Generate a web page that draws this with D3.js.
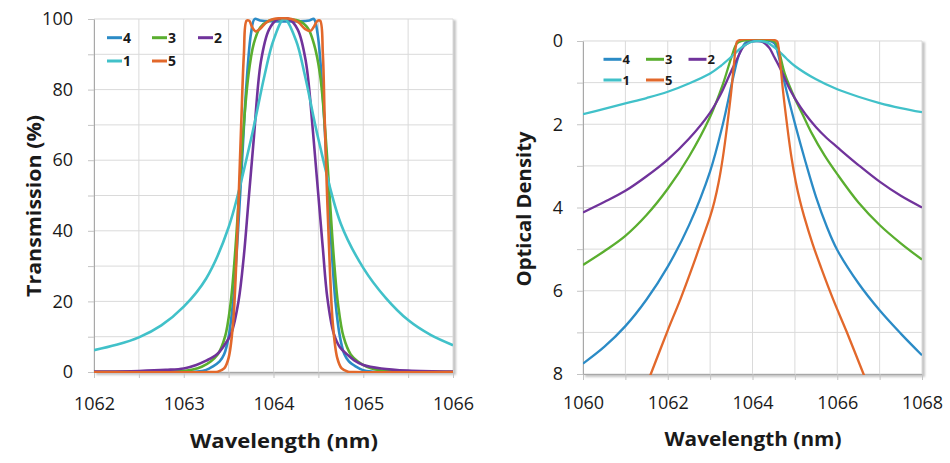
<!DOCTYPE html>
<html>
<head>
<meta charset="utf-8">
<script src="https://cdn.jsdelivr.net/npm/d3@7"></script>
<style>
  body { margin: 0; background: #fff; }
  svg { display: block; }
</style>
</head>
<body>
<svg id="chart" width="950" height="463"></svg>
<script>
// ---- data ----
const seriesNames = ['4', '3', '2', '1', '5'];
const seriesColors = ['#2b8bc6', '#5aae2f', '#70339b', '#41c1c9', '#e2682b'];

// Transmission (%) vs wavelength (nm)
const trans4 = [[1062,0],[1063,0.02],[1063.15,0.1],[1063.25,0.6],[1063.32,1.5],[1063.4,3],[1063.45,5],[1063.5,10],[1063.55,20],[1063.6,38],[1063.65,60],[1063.7,82],[1063.75,96],[1063.79,100],[1063.85,99.6],[1064.12,99.3],[1064.4,99.6],[1064.45,100],[1064.49,96],[1064.54,82],[1064.59,60],[1064.64,38],[1064.69,20],[1064.74,10],[1064.79,5],[1064.84,3],[1064.92,1.5],[1064.99,0.6],[1065.09,0.1],[1065.3,0],[1066,0]];
const trans3 = [[1062,0],[1062.8,0.1],[1063,0.3],[1063.1,0.7],[1063.2,1.5],[1063.3,3],[1063.38,5],[1063.46,10],[1063.52,19],[1063.57,33],[1063.61,48],[1063.66,67],[1063.72,84],[1063.78,93],[1063.85,97.5],[1063.95,99.5],[1064.1,100],[1064.28,99.5],[1064.38,97.5],[1064.45,93],[1064.52,84],[1064.58,67],[1064.63,48],[1064.67,33],[1064.72,19],[1064.78,10],[1064.86,5],[1064.94,3],[1065.04,1.5],[1065.14,0.7],[1065.25,0.3],[1065.45,0.1],[1066,0]];
const trans2 = [[1062,0.1],[1062.5,0.3],[1062.8,0.6],[1063,1],[1063.14,2],[1063.25,3.2],[1063.37,5],[1063.45,7.5],[1063.53,11],[1063.61,20],[1063.67,33],[1063.72,48],[1063.78,66],[1063.86,88],[1063.95,97],[1064.05,100],[1064.17,100],[1064.27,97],[1064.36,88],[1064.44,68],[1064.5,50],[1064.55,35],[1064.6,21],[1064.67,11],[1064.74,7],[1064.82,5],[1064.9,3.3],[1065,2],[1065.2,1],[1065.5,0.4],[1066,0.1]];
const trans1 = [[1062,6.2],[1062.25,7.7],[1062.5,9.8],[1062.75,13.2],[1063,18.5],[1063.25,26.5],[1063.5,41],[1063.75,66],[1063.9,84],[1064,94],[1064.12,100],[1064.25,94],[1064.35,84],[1064.5,66],[1064.75,42],[1065,29.5],[1065.25,21],[1065.5,14.7],[1065.75,10.5],[1066,7.6]];
const trans5 = [[1062,0],[1063.3,0],[1063.38,0.1],[1063.45,1],[1063.5,4],[1063.55,14],[1063.58,28],[1063.61,48],[1063.64,70],[1063.67,90],[1063.7,99.5],[1063.73,99.5],[1063.76,97.8],[1063.8,96.5],[1063.85,97.2],[1063.92,99],[1064,100],[1064.2,100],[1064.28,99],[1064.35,97.2],[1064.41,96.6],[1064.45,97.8],[1064.49,99.5],[1064.52,99.5],[1064.55,90],[1064.57,72],[1064.6,48],[1064.63,28],[1064.66,14],[1064.71,4],[1064.76,1],[1064.83,0.1],[1064.9,0],[1066,0]];

// Optical density vs wavelength (nm)
const od4 = [[1060,7.75],[1060.5,7.35],[1061,6.85],[1061.5,6.21],[1062,5.42],[1062.5,4.43],[1063,3.13],[1063.3,2],[1063.55,0.85],[1063.7,0.28],[1063.85,0.03],[1063.95,0],[1064.4,0],[1064.52,0.06],[1064.6,0.3],[1064.75,0.98],[1065,1.98],[1065.25,2.9],[1065.5,3.75],[1065.75,4.45],[1066,5.02],[1066.5,5.82],[1067,6.47],[1067.5,7.03],[1068,7.55]];
const od3 = [[1060,5.38],[1060.5,5.05],[1061,4.68],[1061.5,4.18],[1062,3.55],[1062.5,2.78],[1063,1.82],[1063.3,1.04],[1063.5,0.4],[1063.63,0.06],[1063.75,0],[1064.5,0],[1064.58,0.1],[1064.65,0.34],[1064.76,0.78],[1065,1.38],[1065.2,1.8],[1065.4,2.22],[1065.7,2.75],[1066,3.2],[1066.5,3.88],[1067,4.42],[1067.5,4.86],[1068,5.25]];
const od2 = [[1060,4.12],[1060.5,3.87],[1061,3.6],[1061.5,3.25],[1062,2.85],[1062.5,2.35],[1063,1.72],[1063.25,1.28],[1063.5,0.72],[1063.65,0.4],[1063.8,0.12],[1063.95,0.02],[1064.1,0],[1064.25,0.03],[1064.4,0.17],[1064.5,0.36],[1064.6,0.55],[1064.72,0.8],[1064.85,1.1],[1065,1.38],[1065.25,1.76],[1065.5,2.07],[1065.75,2.33],[1066,2.55],[1066.5,2.98],[1067,3.38],[1067.5,3.72],[1068,4]];
const od1 = [[1060,1.76],[1060.5,1.63],[1061,1.5],[1061.5,1.37],[1062,1.22],[1062.5,1.02],[1063,0.78],[1063.25,0.6],[1063.5,0.38],[1063.75,0.15],[1063.95,0.03],[1064.15,0],[1064.35,0.04],[1064.5,0.14],[1064.65,0.27],[1064.8,0.42],[1065,0.6],[1065.5,0.92],[1066,1.16],[1066.5,1.34],[1067,1.49],[1067.5,1.61],[1068,1.71]];
const od5 = [[1061.4,8.5],[1061.6,8],[1062,6.95],[1062.3,6.2],[1062.6,5.38],[1062.8,4.8],[1063,4.22],[1063.1,3.86],[1063.2,3.4],[1063.3,2.8],[1063.4,2.05],[1063.5,1.2],[1063.56,0.58],[1063.61,0.12],[1063.65,0],[1064.57,0],[1064.61,0.12],[1064.66,0.58],[1064.72,1.2],[1064.82,2.05],[1064.92,2.8],[1065.02,3.38],[1065.12,3.84],[1065.22,4.22],[1065.42,4.88],[1065.62,5.45],[1065.92,6.25],[1066.22,6.98],[1066.62,8],[1066.82,8.5]];

// ticks and grid
const transGridX = [1062, 1062.5, 1063, 1063.5, 1064, 1064.5, 1065, 1065.5, 1066];
const transLabelX = [1062, 1063, 1064, 1065, 1066];
const transGridY = [0, 10, 20, 30, 40, 50, 60, 70, 80, 90, 100];
const transLabelY = [0, 20, 40, 60, 80, 100];
const odGridX = [1060, 1061, 1062, 1063, 1064, 1065, 1066, 1067, 1068];
const odLabelX = [1060, 1062, 1064, 1066, 1068];
const odGridY = [0, 1, 2, 3, 4, 5, 6, 7, 8];
const odLabelY = [0, 2, 4, 6, 8];

const FONT = "'Open Sans', 'DejaVu Sans', sans-serif";
const svg = d3.select('#chart');

const defs = svg.append('defs');
defs.append('filter').attr('id', 'soft')
  .append('feGaussianBlur').attr('stdDeviation', 1);

function drawPanel(p) {
  const x = d3.scaleLinear().domain(p.xDomain).range([p.x0, p.x1]);
  const y = d3.scaleLinear().domain(p.yDomain).range([p.y1, p.y0]);
  const g = svg.append('g');

  // plot area with soft shadow
  g.append('rect')
    .attr('x', p.x0 + 2).attr('y', p.y0 + 1)
    .attr('width', p.x1 - p.x0 + 1).attr('height', p.y1 - p.y0 + 2)
    .attr('fill', '#c4c4c4').attr('filter', 'url(#soft)');
  g.append('rect')
    .attr('x', p.x0).attr('y', p.y0)
    .attr('width', p.x1 - p.x0).attr('height', p.y1 - p.y0)
    .attr('fill', '#fff');

  // grid
  g.append('g').selectAll('line').data(p.gridX).join('line')
    .attr('x1', d => x(d)).attr('x2', d => x(d))
    .attr('y1', p.y0).attr('y2', p.y1)
    .attr('stroke', '#dadada').attr('stroke-width', 1);
  g.append('g').selectAll('line').data(p.gridY).join('line')
    .attr('x1', p.x0).attr('x2', p.x1)
    .attr('y1', d => y(d)).attr('y2', d => y(d))
    .attr('stroke', '#dadada').attr('stroke-width', 1);

  // axes
  const xAxis = g.append('g')
    .attr('transform', `translate(0,${p.y1})`)
    .call(d3.axisBottom(x).tickValues(p.gridX).tickSize(6).tickSizeOuter(0)
      .tickFormat(d => p.labelX.includes(d) ? d : ''));
  const yAxis = g.append('g')
    .attr('transform', `translate(${p.x0},0)`)
    .call(d3.axisLeft(y).tickValues(p.gridY).tickSize(6).tickSizeOuter(0)
      .tickFormat(d => p.labelY.includes(d) ? d : ''));

  [xAxis, yAxis].forEach(axis => {
    axis.select('.domain').attr('stroke', '#a8a8a8');
    axis.selectAll('.tick line').attr('stroke', '#c4c4c4');
    axis.selectAll('text')
      .attr('fill', '#1a1a1a')
      .style('font-family', FONT)
      .style('font-size', '18px');
  });
  xAxis.selectAll('text').attr('y', p.xLabelBase).attr('dy', 0);
  yAxis.selectAll('text').attr('x', -p.yLabelGap);

  // curves
  const clipId = 'clip-' + p.id;
  defs.append('clipPath').attr('id', clipId)
    .append('rect')
    .attr('x', p.x0).attr('y', p.y0 - 2)
    .attr('width', p.x1 - p.x0).attr('height', p.y1 - p.y0 + 3);

  const line = d3.line()
    .x(d => x(d[0]))
    .y(d => y(d[1]))
    .curve(d3.curveCatmullRom.alpha(0.5));

  g.append('g').attr('clip-path', `url(#${clipId})`)
    .selectAll('path').data(p.series).join('path')
    .attr('d', d => line(d))
    .attr('fill', 'none')
    .attr('stroke', (d, i) => seriesColors[i])
    .attr('stroke-width', p.lineWidth)
    .attr('stroke-linejoin', 'round');

  // legend
  const leg = g.append('g');
  seriesNames.forEach((name, i) => {
    const col = i < 3 ? i : i - 3;
    const row = i < 3 ? 0 : 1;
    const lx = p.legendX[col];
    const ly = p.legendY[row];
    leg.append('line')
      .attr('x1', lx).attr('x2', lx + p.legendLen)
      .attr('y1', ly).attr('y2', ly)
      .attr('stroke', seriesColors[i]).attr('stroke-width', 3);
    leg.append('text')
      .attr('x', lx + p.legendLen + 1).attr('y', ly + p.legendFont * 0.36)
      .style('font-family', FONT).style('font-weight', 700)
      .style('font-size', p.legendFont + 'px')
      .attr('fill', '#1a1a1a')
      .text(name);
  });

  // axis titles
  g.append('text')
    .attr('x', p.xTitle[0]).attr('y', p.xTitle[1])
    .attr('text-anchor', 'middle')
    .attr('textLength', p.xTitle[2]).attr('lengthAdjust', 'spacingAndGlyphs')
    .style('font-family', FONT).style('font-weight', 700).style('font-size', '20px')
    .attr('fill', '#1a1a1a')
    .text('Wavelength (nm)');
  g.append('text')
    .attr('transform', `translate(${p.yTitle[0]},${p.yTitle[1]}) rotate(-90)`)
    .attr('text-anchor', 'middle')
    .attr('textLength', p.yTitle[2]).attr('lengthAdjust', 'spacingAndGlyphs')
    .style('font-family', FONT).style('font-weight', 700).style('font-size', '20px')
    .attr('fill', '#1a1a1a')
    .text(p.yTitleText);
}

drawPanel({
  id: 'trans',
  xDomain: [1062, 1066], yDomain: [0, 100],
  x0: 94, x1: 453, y0: 19, y1: 372,
  gridX: transGridX, labelX: transLabelX,
  gridY: transGridY, labelY: transLabelY,
  xLabelBase: 38, yLabelGap: 21,
  series: [trans4, trans3, trans2, trans1, trans5],
  lineWidth: 2.6,
  legendX: [107, 152, 198], legendY: [37.7, 61], legendLen: 15, legendFont: 14,
  xTitle: [284, 448, 188],
  yTitle: [41, 206, 182], yTitleText: 'Transmission (%)'
});

drawPanel({
  id: 'od',
  xDomain: [1060, 1068], yDomain: [8, 0],
  x0: 583, x1: 922, y0: 41, y1: 374,
  gridX: odGridX, labelX: odLabelX,
  gridY: odGridY, labelY: odLabelY,
  xLabelBase: 35, yLabelGap: 20,
  series: [od4, od3, od2, od1, od5],
  lineWidth: 2.3,
  legendX: [603.5, 646, 688.5], legendY: [59.3, 80], legendLen: 18, legendFont: 13,
  xTitle: [753, 446, 177],
  yTitle: [531, 209, 155], yTitleText: 'Optical Density'
});
</script>
</body>
</html>
